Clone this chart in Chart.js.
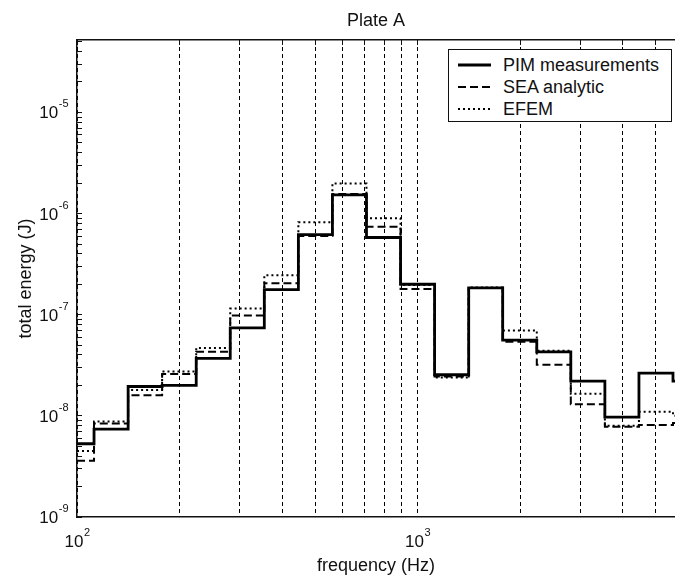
<!DOCTYPE html>
<html lang="en">
<head>
<meta charset="UTF-8">
<title>Plate A</title>
<script src="https://cdn.jsdelivr.net/npm/chart.js"></script>
<style>
  html, body { margin: 0; padding: 0; background: #fff; }
  #wrap { position: relative; width: 675px; height: 581px; overflow: hidden; }
  #legend {
    position: absolute; left: 448px; top: 49px; width: 224px; height: 73px;
    box-sizing: border-box; border: 1px solid #111; background: #fff;
    padding-top: 4px; color: #111;
    font-family: "Liberation Sans", Arial, sans-serif; font-size: 18px;
  }
  #legend .row { display: flex; align-items: center; height: 22px; }
  #legend svg { margin-left: 9px; margin-right: 12px; }
</style>
</head>
<body>
<div id="wrap">
  <canvas id="plate" width="675" height="581"></canvas>
  <div id="legend"></div>
</div>
<script>
// third-octave band edges (Hz)
const bandEdges = [100, 112.2, 141.3, 177.8, 223.9, 281.8, 354.8, 446.7, 562.3, 707.9,
                   891.3, 1122, 1413, 1778, 2239, 2818, 3548, 4467, 5623, 7079];

// total energy per band (J)
const pimValues  = [5.3e-9, 7.4e-9, 1.95e-8, 2.0e-8, 3.7e-8, 7.4e-8, 1.77e-7, 6.2e-7, 1.53e-6, 5.8e-7,
                    2.0e-7, 2.55e-8, 1.84e-7, 5.6e-8, 4.3e-8, 2.2e-8, 9.7e-9, 2.65e-8, 2.2e-8];
const seaValues  = [3.6e-9, 8.4e-9, 1.6e-8, 2.6e-8, 4.3e-8, 9.8e-8, 2.05e-7, 6.0e-7, 1.56e-6, 7.4e-7,
                    1.8e-7, 2.45e-8, 1.84e-7, 5.4e-8, 3.2e-8, 1.3e-8, 7.8e-9, 8.1e-9, 8.5e-9];
const efemValues = [4.5e-9, 8.8e-9, 1.8e-8, 2.75e-8, 4.7e-8, 1.15e-7, 2.45e-7, 8.2e-7, 1.98e-6, 9.0e-7,
                    1.97e-7, 2.4e-8, 1.86e-7, 7.0e-8, 4.4e-8, 1.65e-8, 8.0e-9, 1.1e-8, 1.0e-8];

const xGridTicks = [100, 200, 300, 400, 500, 600, 700, 800, 900, 1000, 2000, 3000, 4000, 5000];
const xTickValues = [100, 1000];
const xTickExponents = ['2', '3'];
const yTickValues = [1e-9, 1e-8, 1e-7, 1e-6, 1e-5];
const yTickExponents = ['-9', '-8', '-7', '-6', '-5'];

const xMin = 100, xMax = 5700;
const yMin = 1e-9, yMax = 5.2e-5;

const INK = '#111';
const FONT = '"Liberation Sans", Arial, sans-serif';
Chart.defaults.font.family = FONT;
Chart.defaults.color = INK;

// minor y ticks at 1..9 x 10^n
const yMinorTicks = [];
yTickValues.forEach(d => {
  for (let m = 1; m <= 9; m++) {
    if (d * m <= yMax) yMinorTicks.push(d * m);
  }
});

function steps(values) {
  const pts = values.map((v, i) => ({ x: bandEdges[i], y: v }));
  pts.push({ x: bandEdges[values.length], y: values[values.length - 1] });
  return pts;
}

// "10" with a raised exponent, placed by the scales
function drawPow(ctx, exp, x, baseline, align) {
  ctx.font = '17px ' + FONT;
  const wb = ctx.measureText('10').width;
  ctx.font = '11px ' + FONT;
  const we = ctx.measureText(exp).width;
  const left = align === 'right' ? x - wb - we : x - (wb + we) / 2;
  ctx.font = '17px ' + FONT;
  ctx.fillText('10', left, baseline);
  ctx.font = '11px ' + FONT;
  ctx.fillText(exp, left + wb + 0.5, baseline - 11);
}

const powLabels = {
  id: 'powLabels',
  afterDraw(c) {
    const ctx = c.ctx;
    const xs = c.scales.x, ys = c.scales.y;
    ctx.save();
    ctx.fillStyle = INK;
    ctx.textAlign = 'left';
    ctx.textBaseline = 'alphabetic';
    xTickValues.forEach((v, i) => drawPow(ctx, xTickExponents[i], xs.getPixelForValue(v), xs.top + 30, 'center'));
    yTickValues.forEach((v, i) => drawPow(ctx, yTickExponents[i], ys.right - 9, ys.getPixelForValue(v) + 6, 'right'));
    ctx.restore();
  }
};

const chart = new Chart(document.getElementById('plate'), {
  type: 'line',
  data: {
    datasets: [
      { label: 'PIM measurements', data: steps(pimValues), stepped: true, order: 0,
        borderColor: '#000', borderWidth: 2.8, borderDash: [], pointRadius: 0 },
      { label: 'SEA analytic', data: steps(seaValues), stepped: true, order: 1,
        borderColor: '#000', borderWidth: 2, borderDash: [8, 4], pointRadius: 0 },
      { label: 'EFEM', data: steps(efemValues), stepped: true, order: 2,
        borderColor: '#000', borderWidth: 2, borderDash: [2, 3], pointRadius: 0 }
    ]
  },
  options: {
    responsive: false,
    animation: false,
    devicePixelRatio: 1,
    layout: { padding: 0 },
    plugins: {
      legend: { display: false },
      tooltip: { enabled: false },
      title: {
        display: true, text: 'Plate A', fullSize: false, color: INK,
        font: { size: 18, weight: 'normal' }, padding: { top: 10, bottom: 4 }
      }
    },
    scales: {
      x: {
        type: 'logarithmic', position: 'bottom', min: xMin, max: xMax,
        afterBuildTicks: s => { s.ticks = xGridTicks.map(v => ({ value: v })); },
        afterFit: s => { s.height = 64; },
        ticks: { display: false },
        grid: { color: '#000', lineWidth: 1, drawTicks: false },
        border: { color: INK, width: 1.5, dash: [4, 3] },
        title: { display: true, text: 'frequency (Hz)', font: { size: 18 }, padding: { top: 0, bottom: 4 } }
      },
      x2: {
        type: 'logarithmic', position: 'top', display: true, min: xMin, max: xMax,
        afterBuildTicks: s => { s.ticks = xGridTicks.map(v => ({ value: v })); },
        afterFit: s => { s.height = 4.4; },
        ticks: { display: false },
        grid: { drawOnChartArea: false, drawTicks: true, tickLength: -5, tickColor: INK, tickWidth: 1 },
        border: { color: INK, width: 1.5 }
      },
      y: {
        type: 'logarithmic', min: yMin, max: yMax,
        afterBuildTicks: s => { s.ticks = yMinorTicks.map(v => ({ value: v })); },
        afterFit: s => { s.width = 77; },
        ticks: { display: false },
        grid: { drawOnChartArea: false, drawTicks: true, tickLength: -5, tickColor: INK, tickWidth: 1 },
        border: { color: INK, width: 1.5 },
        title: { display: true, text: 'total energy (J)', font: { size: 18 }, padding: { top: 15, bottom: 0 } }
      }
    }
  },
  plugins: [powLabels]
});

// html legend in the upper right corner, built from the datasets
const legendEl = document.getElementById('legend');
chart.data.datasets.forEach(ds => {
  const row = document.createElement('div');
  row.className = 'row';
  const dash = (ds.borderDash || []).join(' ');
  row.innerHTML =
    '<svg width="33" height="4"><line x1="0" y1="2" x2="33" y2="2" stroke="#000" stroke-width="' +
    ds.borderWidth + '"' + (dash ? ' stroke-dasharray="' + dash + '"' : '') + '/></svg>' +
    '<span>' + ds.label + '</span>';
  legendEl.appendChild(row);
});
</script>
</body>
</html>
